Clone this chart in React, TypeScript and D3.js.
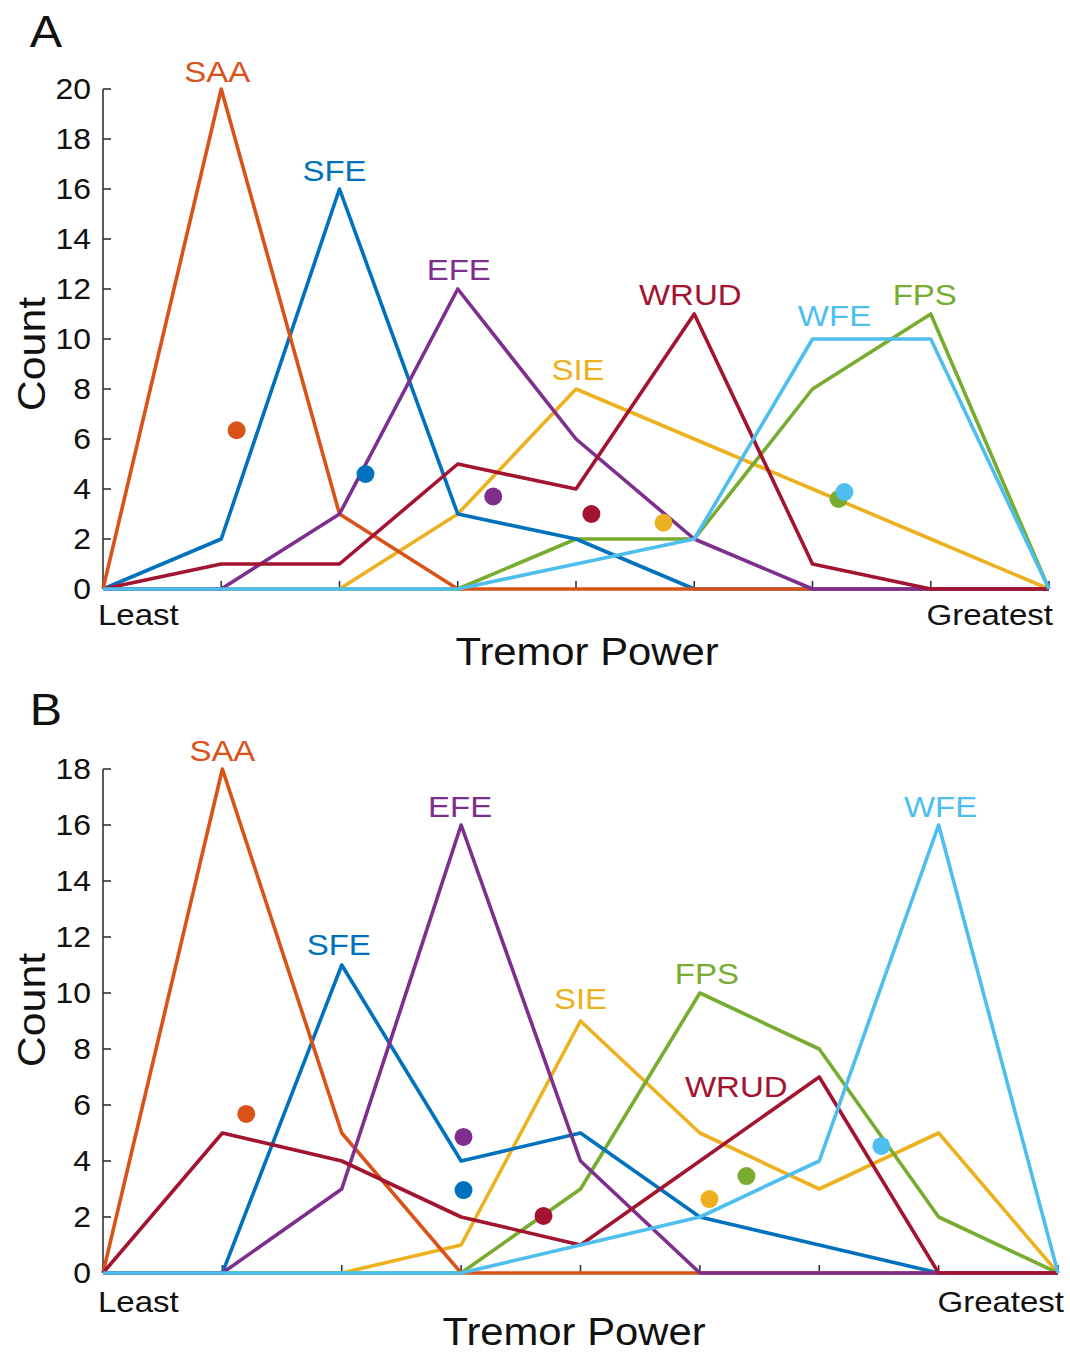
import React from "react";
import * as d3 from "d3";

// ---------- data ----------
const seriesNames = ["SIE", "FPS", "SFE", "SAA", "EFE", "WRUD", "WFE"];
const seriesColors: Record<string, string> = {
  SAA: "#D95319",
  SFE: "#0072BD",
  EFE: "#7E2F8E",
  SIE: "#EDB120",
  WRUD: "#A2142F",
  FPS: "#77AC30",
  WFE: "#4DBEEE",
};
const binIndex = [0, 1, 2, 3, 4, 5, 6, 7, 8];

// Panel A counts per bin
const A_SAA = [0, 20, 3, 0, 0, 0, 0, 0, 0];
const A_SFE = [0, 2, 16, 3, 2, 0, 0, 0, 0];
const A_EFE = [0, 0, 3, 12, 6, 2, 0, 0, 0];
const A_SIE = [0, 0, 0, 3, 8, 6, 4, 2, 0];
const A_WRUD = [0, 1, 1, 5, 4, 11, 1, 0, 0];
const A_FPS = [0, 0, 0, 0, 2, 2, 8, 11, 0];
const A_WFE = [0, 0, 0, 0, 1, 2, 10, 10, 0];
// Panel A means [bin position, count]
const A_meanPos = { SAA: 1.13, SFE: 2.22, EFE: 3.3, WRUD: 4.13, SIE: 4.74, FPS: 6.22, WFE: 6.27 };
const A_meanVal = { SAA: 6.35, SFE: 4.6, EFE: 3.7, WRUD: 3.0, SIE: 2.65, FPS: 3.6, WFE: 3.88 };
const A_yTicks = [0, 2, 4, 6, 8, 10, 12, 14, 16, 18, 20];

// Panel B counts per bin
const B_SAA = [0, 18, 5, 0, 0, 0, 0, 0, 0];
const B_SFE = [0, 0, 11, 4, 5, 2, 1, 0, 0];
const B_EFE = [0, 0, 3, 16, 4, 0, 0, 0, 0];
const B_SIE = [0, 0, 0, 1, 9, 5, 3, 5, 0];
const B_WRUD = [0, 5, 4, 2, 1, 4, 7, 0, 0];
const B_FPS = [0, 0, 0, 0, 3, 10, 8, 2, 0];
const B_WFE = [0, 0, 0, 0, 1, 2, 4, 16, 0];
const B_meanPos = { SAA: 1.2, SFE: 3.02, EFE: 3.02, WRUD: 3.69, SIE: 5.08, FPS: 5.39, WFE: 6.52 };
const B_meanVal = { SAA: 5.68, SFE: 2.96, EFE: 4.86, WRUD: 2.04, SIE: 2.64, FPS: 3.46, WFE: 4.54 };
const B_yTicks = [0, 2, 4, 6, 8, 10, 12, 14, 16, 18];

const xEndLabels = ["Least", "Greatest"];

// ---------- layout / styling ----------
const FONT = "'Liberation Sans', Arial, Helvetica, sans-serif";
const SX = 1.1; // horizontal stretch of the lettering

type PanelCfg = {
  letter: string;
  series: Record<string, number[]>;
  meanPos: Record<string, number>;
  meanVal: Record<string, number>;
  yTicks: number[];
  yMax: number;
  xRange: [number, number];
  yRange: [number, number];
  labelOffset: Record<string, [number, number]>;
  letterPos: [number, number];
  xTitleY: number;
  xTitleX: number;
  yTitlePos: [number, number];
  endLabelY: number;
  greatestX: number;
};

const panels: PanelCfg[] = [
  {
    letter: "A",
    series: { SAA: A_SAA, SFE: A_SFE, EFE: A_EFE, SIE: A_SIE, WRUD: A_WRUD, FPS: A_FPS, WFE: A_WFE },
    meanPos: A_meanPos,
    meanVal: A_meanVal,
    yTicks: A_yTicks,
    yMax: 20,
    xRange: [103, 1049],
    yRange: [589, 89],
    labelOffset: {
      SAA: [-4, -7], SFE: [-5, -8], EFE: [1, -9], SIE: [2, -9],
      WRUD: [-4, -9], WFE: [22, -13], FPS: [-6, -9],
    },
    letterPos: [46, 47],
    xTitleY: 665,
    xTitleX: 587,
    yTitlePos: [45, 354],
    endLabelY: 625,
    greatestX: 1053,
  },
  {
    letter: "B",
    series: { SAA: B_SAA, SFE: B_SFE, EFE: B_EFE, SIE: B_SIE, WRUD: B_WRUD, FPS: B_FPS, WFE: B_WFE },
    meanPos: B_meanPos,
    meanVal: B_meanVal,
    yTicks: B_yTicks,
    yMax: 18,
    xRange: [103, 1058],
    yRange: [1273, 769],
    labelOffset: {
      SAA: [0, -8], SFE: [-3, -10], EFE: [-1, -8], SIE: [0, -12],
      WRUD: [-83, 20], WFE: [2, -8], FPS: [7, -9],
    },
    letterPos: [46, 725],
    xTitleY: 1345,
    xTitleX: 574,
    yTitlePos: [45, 1010],
    endLabelY: 1312,
    greatestX: 1064,
  },
];

function SText({
  x, y, size, anchor = "start", fill = "#111", rotate = 0, dy, children,
}: {
  x: number; y: number; size: number; anchor?: string; fill?: string; rotate?: number; dy?: string; children: React.ReactNode;
}) {
  const t = `translate(${x},${y})${rotate ? ` rotate(${rotate})` : ""} scale(${SX},1)`;
  return (
    <text transform={t} dy={dy} fontSize={size} textAnchor={anchor as any} fill={fill} fontFamily={FONT}>
      {children}
    </text>
  );
}

function Panel({ cfg }: { cfg: PanelCfg }) {
  const x = d3.scaleLinear().domain([0, 8]).range(cfg.xRange);
  const y = d3.scaleLinear().domain([0, cfg.yMax]).range(cfg.yRange);
  const line = d3
    .line<number>()
    .x((_, i) => x(binIndex[i]))
    .y((v) => y(v));
  const [y0, y1] = cfg.yRange;
  const x0 = cfg.xRange[0];

  return (
    <g>
      <SText x={cfg.letterPos[0]} y={cfg.letterPos[1]} size={44} anchor="middle">
        {cfg.letter}
      </SText>
      {/* y axis */}
      <line x1={x0} x2={x0} y1={y1} y2={y0} stroke="#333" strokeWidth={1.6} />
      {cfg.yTicks.map((t) => (
        <g key={t}>
          <line x1={x0} x2={x0 + 8} y1={y(t)} y2={y(t)} stroke="#333" strokeWidth={1.6} />
          <SText x={x0 - 12} y={y(t)} dy="0.36em" anchor="end" size={29}>
            {t}
          </SText>
        </g>
      ))}
      {/* x axis */}
      <line x1={cfg.xRange[0]} x2={cfg.xRange[1]} y1={y0} y2={y0} stroke="#333" strokeWidth={1.6} />
      {binIndex.map((b) => (
        <line key={b} x1={x(b)} x2={x(b)} y1={y0} y2={y0 - 8} stroke="#333" strokeWidth={1.6} />
      ))}
      <SText x={x0 - 5} y={cfg.endLabelY} size={30}>
        {xEndLabels[0]}
      </SText>
      <SText x={cfg.greatestX} y={cfg.endLabelY} size={30} anchor="end">
        {xEndLabels[1]}
      </SText>
      <SText x={cfg.xTitleX} y={cfg.xTitleY} size={38} anchor="middle">
        Tremor Power
      </SText>
      <SText x={cfg.yTitlePos[0]} y={cfg.yTitlePos[1]} size={39} anchor="middle" rotate={-90}>
        Count
      </SText>
      {/* lines */}
      {seriesNames.map((name) => (
        <path
          key={name}
          d={line(cfg.series[name]) || ""}
          fill="none"
          stroke={seriesColors[name]}
          strokeWidth={3.6}
          strokeLinejoin="round"
        />
      ))}
      {/* mean dots */}
      {seriesNames.map((name) => (
        <circle key={name} cx={x(cfg.meanPos[name])} cy={y(cfg.meanVal[name])} r={9} fill={seriesColors[name]} />
      ))}
      {/* series labels at peaks */}
      {seriesNames.map((name) => {
        const vals = cfg.series[name];
        const peak = d3.maxIndex(vals);
        const [dx, dy] = cfg.labelOffset[name];
        return (
          <SText
            key={name}
            x={x(binIndex[peak]) + dx}
            y={y(vals[peak]) + dy}
            anchor="middle"
            size={30}
            fill={seriesColors[name]}
          >
            {name}
          </SText>
        );
      })}
    </g>
  );
}

export default function App() {
  return (
    <svg
      width={1070}
      height={1355}
      style={{ position: "absolute", left: 0, top: 0, background: "#fff" }}
    >
      <rect width={1070} height={1355} fill="#fff" />
      {panels.map((p) => (
        <Panel key={p.letter} cfg={p} />
      ))}
    </svg>
  );
}
